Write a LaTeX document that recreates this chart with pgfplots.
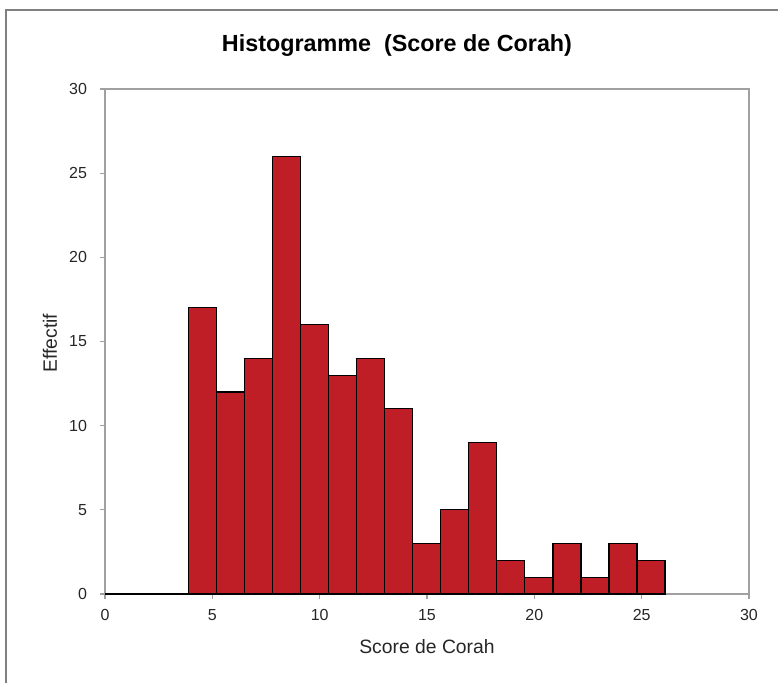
\documentclass[border=0pt]{standalone}
\usepackage{pgfplots}
\pgfplotsset{compat=1.18}
\usepackage{fontspec}
\setmainfont{Liberation Sans}
\definecolor{barred}{RGB}{192,30,38}
\definecolor{axgray}{RGB}{160,160,160}
\begin{document}
\begin{tikzpicture}
\useasboundingbox (-78.75pt,-66pt) rectangle (504.75pt,445.5pt);
\draw[axgray!80!black, line width=1.1pt] (-74.25pt,-70pt) -- (-74.25pt,438pt) -- (510pt,438pt);
\begin{axis}[
  at={(0,0)}, anchor=south west,
  scale only axis, width=483pt, height=378.75pt,
  xmin=0, xmax=30, ymin=0, ymax=30,
  xtick={0,5,...,30}, ytick={0,5,...,30},
  tick pos=left, tick align=outside,
  major tick length=4pt,
  axis line style={axgray, line width=0.8pt},
  every tick/.style={axgray, line width=0.8pt},
  /pgf/number format/assume math mode=true,
  ticklabel style={font=\fontsize{12}{14}\selectfont, text=black!85},
  xticklabel style={yshift=-4pt},
  yticklabel style={xshift=-6pt},
  clip=false,
]
\addplot[black, line width=0.9pt] coordinates {(0,0) (3.9,0)};
\addplot[ybar interval, fill=barred, draw=black, line width=0.9pt] coordinates {
(3.9,17) (5.205,12) (6.51,14) (7.815,26) (9.12,16) (10.425,13) (11.73,14) (13.035,11)
(14.34,3) (15.645,5) (16.95,9) (18.255,2) (19.56,1) (20.865,3) (22.17,1) (23.475,3)
(24.78,2) (26.085,2)};
\end{axis}
\node[font=\bfseries\fontsize{17.5}{20}\selectfont] at (219pt,411pt) {Histogramme\ \ (Score de Corah)};
\node[rotate=90, font=\fontsize{14.5}{17}\selectfont, text=black!85] at (-41.25pt,188pt) {Effectif};
\node[font=\fontsize{14.5}{17}\selectfont, text=black!85] at (241.5pt,-39.75pt) {Score de Corah};
\end{tikzpicture}
\end{document}
